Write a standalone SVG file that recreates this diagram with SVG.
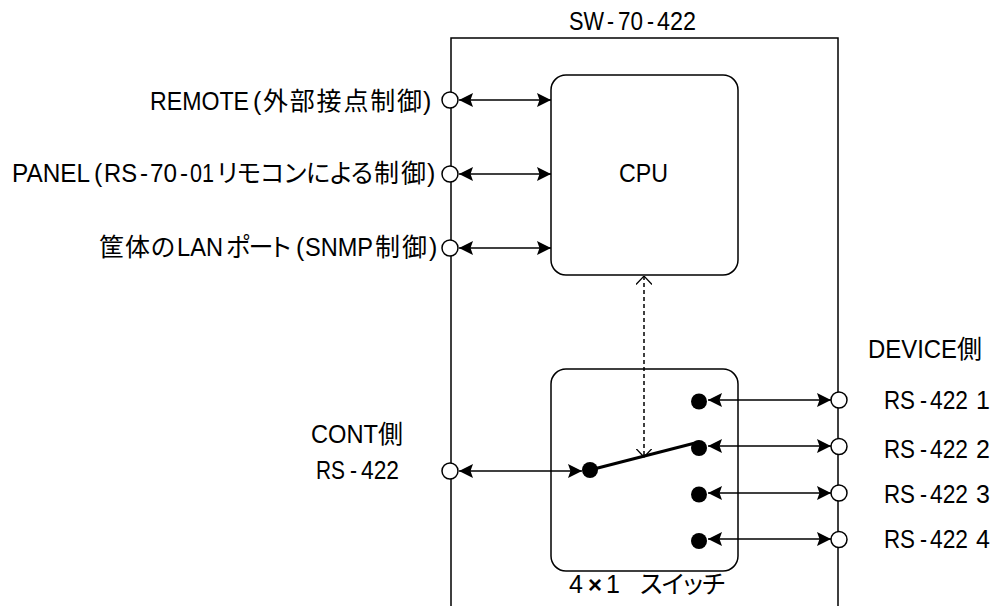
<svg xmlns="http://www.w3.org/2000/svg" width="997" height="606" viewBox="0 0 997 606">
<style>
text{font-family:"Liberation Sans","Noto Sans CJK JP",sans-serif;font-size:25px;fill:#000}
.j{font-family:"Noto Sans CJK JP","Liberation Sans",sans-serif;font-size:25px;font-feature-settings:"palt"}
.x{font-weight:bold;font-size:24px}
.box{fill:#fff;stroke:#000;stroke-width:1.5}
.port{fill:#fff;stroke:#000;stroke-width:1.5}
.dot{fill:#000}
.ln{fill:none;stroke:#000;stroke-width:1.5}
</style>
<defs>
<marker id="a" viewBox="0 0 14 14" refX="14" refY="7" markerWidth="14" markerHeight="14" markerUnits="userSpaceOnUse" orient="auto-start-reverse"><path d="M0 0L14 7L0 14L2.500 7Z" fill="#000"/></marker>
<marker id="o" viewBox="0 0 9 16" refX="8.500" refY="8" markerWidth="9" markerHeight="16" markerUnits="userSpaceOnUse" orient="auto-start-reverse"><path d="M0 0L8.500 8L0 16" fill="none" stroke="#000" stroke-width="1.200"/></marker>
</defs>
<g id="chassis"><path class="ln" d="M451 606V38H838V606"/></g>
<g id="cpu"><rect class="box" x="551" y="75" width="187" height="200" rx="15"/><text x="619" y="182" textLength="49" lengthAdjust="spacingAndGlyphs">CPU</text></g>
<g id="switch"><rect class="box" x="551" y="369" width="187" height="202" rx="15"/><text y="593"><tspan x="569">4</tspan><tspan x="588" textLength="14" lengthAdjust="spacingAndGlyphs" class="x">×</tspan><tspan x="606">1</tspan><tspan x="640" class="j" textLength="85">スイッチ</tspan></text></g>
<g id="connectors">
<path class="ln" d="M459 100H551" marker-start="url(#a)" marker-end="url(#a)"/>
<path class="ln" d="M459 174H551" marker-start="url(#a)" marker-end="url(#a)"/>
<path class="ln" d="M459 248H551" marker-start="url(#a)" marker-end="url(#a)"/>
<path class="ln" d="M459 471H582" marker-start="url(#a)" marker-end="url(#a)"/>
<path class="ln" d="M708 400H831" marker-start="url(#a)" marker-end="url(#a)"/>
<path class="ln" d="M708 446H831" marker-start="url(#a)" marker-end="url(#a)"/>
<path class="ln" d="M708 493H831" marker-start="url(#a)" marker-end="url(#a)"/>
<path class="ln" d="M708 539H831" marker-start="url(#a)" marker-end="url(#a)"/>
<path class="ln" stroke-dasharray="4 3" d="M644 276V457" marker-start="url(#o)" marker-end="url(#o)"/>
<path d="M590 470L699 442" fill="none" stroke="#000" stroke-width="3"/>
</g>
<g id="port-remote"><circle class="port" cx="450" cy="100" r="8"/><text y="110"><tspan x="150" textLength="99" lengthAdjust="spacingAndGlyphs">REMOTE</tspan><tspan x="253">(</tspan><tspan x="263" class="j" textLength="159">外部接点制御</tspan><tspan x="423">)</tspan></text></g>
<g id="port-panel"><circle class="port" cx="450" cy="174" r="8"/><text y="182"><tspan x="12" textLength="78" lengthAdjust="spacingAndGlyphs">PANEL</tspan><tspan x="94">(</tspan><tspan x="104" textLength="33" lengthAdjust="spacingAndGlyphs">RS</tspan><tspan x="140" textLength="8" lengthAdjust="spacingAndGlyphs">-</tspan><tspan x="150" textLength="27" lengthAdjust="spacingAndGlyphs">70</tspan><tspan x="180" textLength="8" lengthAdjust="spacingAndGlyphs">-</tspan><tspan x="190" textLength="24" lengthAdjust="spacingAndGlyphs">01</tspan><tspan x="217" class="j" textLength="156">リモコンによる</tspan><tspan x="374" class="j" textLength="52">制御</tspan><tspan x="427">)</tspan></text></g>
<g id="port-lan"><circle class="port" cx="450" cy="248" r="8"/><text y="256"><tspan x="99" class="j" textLength="76">筐体の</tspan><tspan x="177" textLength="46" lengthAdjust="spacingAndGlyphs">LAN</tspan><tspan x="226" class="j" textLength="65">ポート</tspan><tspan x="296">(</tspan><tspan x="305" textLength="68" lengthAdjust="spacingAndGlyphs">SNMP</tspan><tspan x="375" class="j" textLength="52">制御</tspan><tspan x="429">)</tspan></text></g>
<g id="port-cont"><circle class="port" cx="450" cy="471" r="8"/><text y="443"><tspan x="311" textLength="67" lengthAdjust="spacingAndGlyphs">CONT</tspan><tspan x="378" class="j">側</tspan></text><text y="479"><tspan x="316" textLength="29" lengthAdjust="spacingAndGlyphs">RS</tspan><tspan x="350" textLength="7" lengthAdjust="spacingAndGlyphs">-</tspan><tspan x="361" textLength="38" lengthAdjust="spacingAndGlyphs">422</tspan></text></g>
<g id="title"><text y="30"><tspan x="569" textLength="35" lengthAdjust="spacingAndGlyphs">SW</tspan><tspan x="607" textLength="7" lengthAdjust="spacingAndGlyphs">-</tspan><tspan x="618" textLength="25" lengthAdjust="spacingAndGlyphs">70</tspan><tspan x="647" textLength="7" lengthAdjust="spacingAndGlyphs">-</tspan><tspan x="657" textLength="39" lengthAdjust="spacingAndGlyphs">422</tspan></text></g>
<g id="device-label"><text y="358"><tspan x="868" textLength="89" lengthAdjust="spacingAndGlyphs">DEVICE</tspan><tspan x="957" class="j">側</tspan></text></g>
<g id="contact-1"><circle class="dot" cx="699" cy="401.500" r="8"/></g>
<g id="contact-2"><circle class="dot" cx="699" cy="448" r="8"/></g>
<g id="contact-3"><circle class="dot" cx="699" cy="494.500" r="8"/></g>
<g id="contact-4"><circle class="dot" cx="699" cy="541" r="8"/></g>
<g id="contact-c"><circle class="dot" cx="590" cy="470" r="8"/></g>
<g id="port-d1"><circle class="port" cx="839" cy="400" r="8"/><text y="409"><tspan x="884" textLength="31" lengthAdjust="spacingAndGlyphs">RS</tspan><tspan x="920" textLength="7" lengthAdjust="spacingAndGlyphs">-</tspan><tspan x="930" textLength="38" lengthAdjust="spacingAndGlyphs">422</tspan><tspan x="976">1</tspan></text></g>
<g id="port-d2"><circle class="port" cx="839" cy="446.500" r="8"/><text y="458"><tspan x="884" textLength="31" lengthAdjust="spacingAndGlyphs">RS</tspan><tspan x="920" textLength="7" lengthAdjust="spacingAndGlyphs">-</tspan><tspan x="930" textLength="38" lengthAdjust="spacingAndGlyphs">422</tspan><tspan x="976">2</tspan></text></g>
<g id="port-d3"><circle class="port" cx="839" cy="493" r="8"/><text y="503"><tspan x="884" textLength="31" lengthAdjust="spacingAndGlyphs">RS</tspan><tspan x="920" textLength="7" lengthAdjust="spacingAndGlyphs">-</tspan><tspan x="930" textLength="38" lengthAdjust="spacingAndGlyphs">422</tspan><tspan x="976">3</tspan></text></g>
<g id="port-d4"><circle class="port" cx="839" cy="539.500" r="8"/><text y="548"><tspan x="884" textLength="31" lengthAdjust="spacingAndGlyphs">RS</tspan><tspan x="920" textLength="7" lengthAdjust="spacingAndGlyphs">-</tspan><tspan x="930" textLength="38" lengthAdjust="spacingAndGlyphs">422</tspan><tspan x="976">4</tspan></text></g>
</svg>
